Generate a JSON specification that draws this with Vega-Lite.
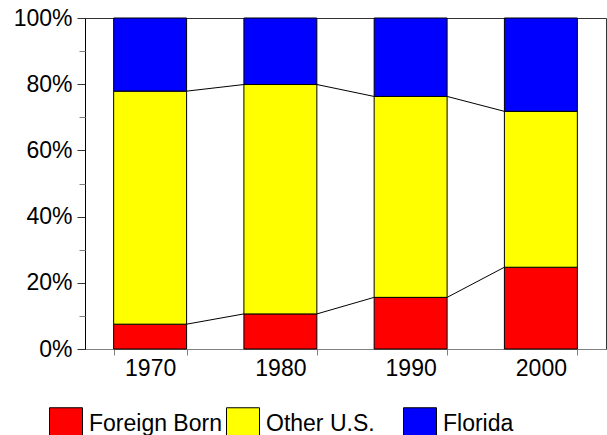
{
  "$schema": "https://vega.github.io/schema/vega-lite/v6.json",
  "width": 521,
  "height": 331,
  "autosize": {"type": "none"},
  "padding": {"left": 85, "top": 18, "right": 1, "bottom": 86},
  "config": {
    "font": "Liberation Sans",
    "view": {"stroke": "#333333", "strokeWidth": 1},
    "axis": {"labelColor": "black", "labelFont": "Liberation Sans", "labelFontSize": 23, "grid": false}
  },
  "data": {
    "values": [
      {"year": 1970, "series": "Foreign Born", "ord": 1, "value": 7.5},
      {"year": 1970, "series": "Other U.S.", "ord": 2, "value": 70.4},
      {"year": 1970, "series": "Florida", "ord": 3, "value": 22.1},
      {"year": 1980, "series": "Foreign Born", "ord": 1, "value": 10.6},
      {"year": 1980, "series": "Other U.S.", "ord": 2, "value": 69.3},
      {"year": 1980, "series": "Florida", "ord": 3, "value": 20.1},
      {"year": 1990, "series": "Foreign Born", "ord": 1, "value": 15.6},
      {"year": 1990, "series": "Other U.S.", "ord": 2, "value": 60.7},
      {"year": 1990, "series": "Florida", "ord": 3, "value": 23.7},
      {"year": 2000, "series": "Foreign Born", "ord": 1, "value": 24.7},
      {"year": 2000, "series": "Other U.S.", "ord": 2, "value": 47.1},
      {"year": 2000, "series": "Florida", "ord": 3, "value": 28.2}
    ]
  },
  "encoding": {
    "x": {
      "field": "year",
      "type": "ordinal",
      "scale": {"paddingInner": 0.44, "paddingOuter": 0.22},
      "axis": {
        "title": null,
        "labelAngle": 0,
        "tickBand": "extent",
        "tickSize": 6,
        "labelPadding": 2,
        "domainColor": "#808080",
        "tickColor": "#808080"
      }
    }
  },
  "layer": [
    {
      "mark": {"type": "bar", "stroke": "black", "strokeWidth": 1},
      "encoding": {
        "y": {
          "field": "value",
          "type": "quantitative",
          "stack": "normalize",
          "scale": {"domain": [0, 1]},
          "axis": {
            "title": null,
            "values": [0, 0.2, 0.4, 0.6, 0.8, 1],
            "format": ".0%",
            "tickSize": 8,
            "labelPadding": 5,
            "domainColor": "black",
            "tickColor": "#333333"
          }
        },
        "order": {"field": "ord", "type": "quantitative"},
        "color": {
          "field": "series",
          "type": "nominal",
          "scale": {
            "domain": ["Foreign Born", "Other U.S.", "Florida"],
            "range": ["#FF0000", "#FFFF00", "#0000FF"]
          },
          "legend": {
            "title": null,
            "orient": "none",
            "legendX": -36,
            "legendY": 389,
            "direction": "horizontal",
            "symbolType": "square",
            "symbolSize": 1089,
            "symbolStrokeColor": "black",
            "symbolStrokeWidth": 1,
            "symbolOpacity": 1,
            "labelFontSize": 23,
            "labelColor": "black",
            "labelOffset": 6,
            "gridAlign": "all",
            "columnPadding": 2
          }
        }
      }
    },
    {
      "transform": [
        {"stack": "value", "groupby": ["year"], "sort": [{"field": "ord"}], "offset": "normalize", "as": ["y0", "y1"]},
        {"filter": "datum.series != 'Florida'"},
        {"window": [{"op": "lead", "field": "y1", "as": "nextY"}, {"op": "lead", "field": "year", "as": "nextYear"}], "groupby": ["series"], "sort": [{"field": "year"}]},
        {"filter": "datum.nextYear != null"}
      ],
      "mark": {"type": "rule", "color": "black", "strokeWidth": 1, "xOffset": 36.5, "x2Offset": -36.5},
      "encoding": {
        "x2": {"field": "nextYear"},
        "y": {
          "field": "y1",
          "type": "quantitative",
          "scale": {"domain": [0, 1]},
          "axis": {
            "orient": "left",
            "title": null,
            "values": [0.1, 0.3, 0.5, 0.7, 0.9],
            "labels": false,
            "domain": false,
            "tickSize": 6,
            "tickColor": "#808080"
          }
        },
        "y2": {"field": "nextY"}
      }
    }
  ],
  "resolve": {"axis": {"y": "independent"}}
}
